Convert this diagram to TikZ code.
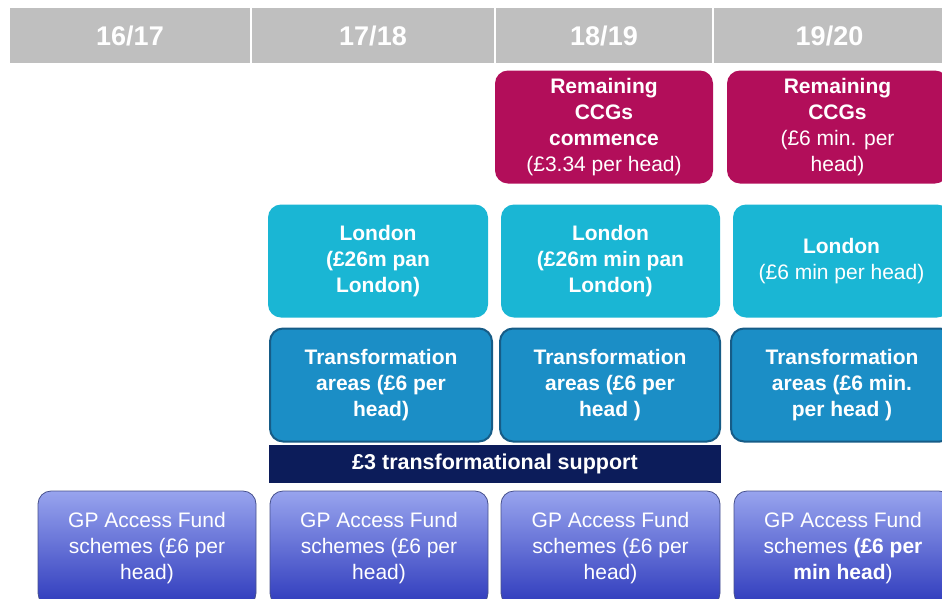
\documentclass[tikz,border=0pt]{standalone}
\usepackage{fontspec}
\setmainfont{Liberation Sans}
\definecolor{hdrgray}{RGB}{191,191,191}
\definecolor{ccgred}{RGB}{178,14,90}
\definecolor{loncyan}{RGB}{26,182,212}
\definecolor{trblue}{RGB}{27,142,198}
\definecolor{trdark}{RGB}{22,92,135}
\definecolor{supnavy}{RGB}{12,28,90}
\definecolor{gptop}{RGB}{152,164,238}
\definecolor{gpbot}{RGB}{46,58,188}
\definecolor{gpedge}{RGB}{70,80,140}

\begin{document}
\begin{tikzpicture}[x=1pt, y=-1pt,
    hdr/.style = {fill=hdrgray, text=white, inner sep=0pt, minimum height=55pt,
                  font=\fontsize{27}{30}\selectfont\bfseries},
    box/.style = {rounded corners=13pt, text=white, align=center, inner sep=0pt,
                  minimum height=113pt, font=\fontsize{21}{26}\selectfont},
    ccg/.style = {box, fill=ccgred},
    lon/.style = {box, fill=loncyan},
    trans/.style = {box, fill=trblue, draw=trdark, line width=2pt},
    gp/.style = {box, top color=gptop, bottom color=gpbot, draw=gpedge,
                 line width=0.8pt, minimum height=115pt}]
    \useasboundingbox (0,0) rectangle (942,598);
    \clip (0,0) rectangle (942,598);

    % years
    \node [hdr, minimum width=240pt] (h1) at (130,35.5) {16/17};
    \node [hdr, minimum width=242pt] (h2) at (373,35.5) {17/18};
    \node [hdr, minimum width=216pt] (h3) at (604,35.5) {18/19};
    \node [hdr, minimum width=231pt] (h4) at (829.5,35.5) {19/20};

    % remaining CCGs
    \node [ccg, minimum width=218pt] (ccg3) at (604,127)
      {\textbf{Remaining}\\\textbf{CCGs}\\\textbf{commence}\\(£3.34 per head)};
    \node [ccg, minimum width=221pt] (ccg4) at (837.5,127)
      {\textbf{Remaining}\\\textbf{CCGs}\\(£6 min. per\\head)};

    % London
    \node [lon, minimum width=220pt] (lon2) at (378,261)
      {\textbf{London}\\\textbf{(£26m pan}\\\textbf{London)}};
    \node [lon, minimum width=219pt] (lon3) at (610.5,261)
      {\textbf{London}\\\textbf{(£26m min pan}\\\textbf{London)}};
    \node [lon, minimum width=217pt] (lon4) at (841.5,261)
      {\textbf{London}\\(£6 min per head)};

    % transformation areas
    \node [trans, minimum width=222pt] (tr2) at (381,385)
      {\textbf{Transformation}\\\textbf{areas (£6 per}\\\textbf{head)}};
    \node [trans, minimum width=220pt] (tr3) at (610,385)
      {\textbf{Transformation}\\\textbf{areas (£6 per}\\\textbf{head )}};
    \node [trans, minimum width=222pt] (tr4) at (842,385)
      {\textbf{Transformation}\\\textbf{areas (£6 min.}\\\textbf{per head )}};

    \node [fill=supnavy, text=white, minimum width=452pt, minimum height=38pt,
           inner sep=0pt, font=\fontsize{21.5}{24}\selectfont\bfseries] (sup) at (495,464)
      {£3 transformational support};

    % GP access fund
    \node [gp, minimum width=218pt] (gp1) at (147,548.5)
      {GP Access Fund\\schemes (£6 per\\head)};
    \node [gp, minimum width=218pt] (gp2) at (379,548.5)
      {GP Access Fund\\schemes (£6 per\\head)};
    \node [gp, minimum width=219pt] (gp3) at (610.5,548.5)
      {GP Access Fund\\schemes (£6 per\\head)};
    \node [gp, minimum width=218pt] (gp4) at (843,548.5)
      {GP Access Fund\\schemes \textbf{(£6 per}\\\textbf{min head})};
\end{tikzpicture}
\end{document}
